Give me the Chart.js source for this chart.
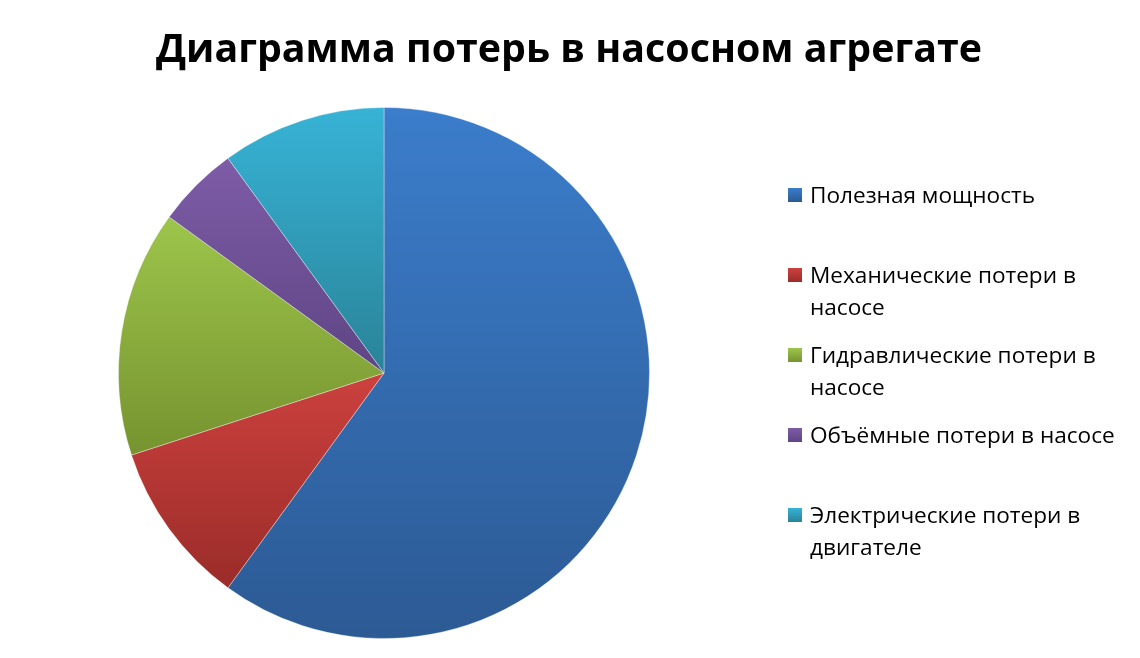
<!DOCTYPE html>
<html>
<head>
<meta charset="utf-8">
<title>Диаграмма потерь в насосном агрегате</title>
<script src="https://cdn.jsdelivr.net/npm/chart.js@4.4.0/dist/chart.umd.min.js"></script>
<style>
    html, body { margin: 0; padding: 0; background: #fff; }
</style>
</head>
<body>
<canvas id="pieChart" width="1140" height="658"></canvas>
<script>
const titleText = 'Диаграмма потерь в насосном агрегате';
const categories = [
    'Полезная мощность',
    'Механические потери в насосе',
    'Гидравлические потери в насосе',
    'Объёмные потери в насосе',
    'Электрические потери в двигателе'
];
const lossValues = [60, 10, 15, 5, 10];

// office-like slice colours, light at the top and dark at the bottom
const lightColors = ['#3b7dcb', '#cc413e', '#9dc54b', '#7e5ca7', '#37b3d6'];
const darkColors = ['#2c5a94', '#9a2c29', '#76932f', '#5e4584', '#2a8398'];

function sliceGradient(context) {
    const chart = context.chart;
    const area = chart.chartArea;
    const i = context.dataIndex;
    if (!area || i === undefined) return lightColors[i || 0];
    const cx = (area.left + area.right) / 2;
    const cy = (area.top + area.bottom) / 2;
    const r = Math.min(area.width, area.height) / 2;
    const total = lossValues.reduce((a, b) => a + b, 0);
    let before = 0;
    for (let k = 0; k < i; k++) before += lossValues[k];
    const a0 = -Math.PI / 2 + before / total * 2 * Math.PI;
    const a1 = a0 + lossValues[i] / total * 2 * Math.PI;
    let ys = [cy, cy + r * Math.sin(a0), cy + r * Math.sin(a1)];
    [-Math.PI / 2, Math.PI / 2, 3 * Math.PI / 2].forEach(function (a) {
        if (a >= a0 && a <= a1) ys.push(cy + r * Math.sin(a));
    });
    const g = chart.ctx.createLinearGradient(0, Math.min(...ys), 0, Math.max(...ys));
    g.addColorStop(0, lightColors[i]);
    g.addColorStop(1, darkColors[i]);
    return g;
}

// title and wrapped legend on the right, drawn like the excel picture
const sideLegend = {
    id: 'sideLegend',
    afterDraw(chart) {
        const ctx = chart.ctx;
        ctx.save();
        ctx.fillStyle = '#000';
        ctx.textAlign = 'left';
        ctx.textBaseline = 'alphabetic';

        ctx.font = 'bold 39px "Open Sans"';
        let w = ctx.measureText(titleText).width;
        let sx = 826 / w;
        ctx.save();
        ctx.translate(156, 62);
        ctx.scale(sx, 1);
        ctx.fillText(titleText, 0, 0);
        ctx.restore();

        ctx.font = '22px "Open Sans"';
        sx = 225 / ctx.measureText(categories[0]).width;
        const maxWidth = 318 / sx;

        categories.forEach(function (label, i) {
            let words = label.split(' ');
            let lines = [];
            let line = '';
            words.forEach(function (word) {
                let test = line ? line + ' ' + word : word;
                if (ctx.measureText(test).width > maxWidth && line) {
                    lines.push(line);
                    line = word;
                } else {
                    line = test;
                }
            });
            lines.push(line);

            let baseY = 203 + i * 80;
            let g = ctx.createLinearGradient(0, baseY - 15, 0, baseY - 1);
            g.addColorStop(0, lightColors[i]);
            g.addColorStop(1, darkColors[i]);
            ctx.fillStyle = g;
            ctx.fillRect(788, baseY - 15, 14, 14);

            ctx.fillStyle = '#000';
            lines.forEach(function (text, j) {
                ctx.save();
                ctx.translate(810, baseY + j * 32);
                ctx.scale(sx, 1);
                ctx.fillText(text, 0, 0);
                ctx.restore();
            });
        });
        ctx.restore();
    }
};

var pieChartCanvas = document.getElementById('pieChart').getContext('2d');
var pieChart = new Chart(pieChartCanvas, {
    type: 'pie',
    data: {
        labels: categories,
        datasets: [
            {
                data: lossValues,
                backgroundColor: sliceGradient,
                borderColor: 'rgba(255,255,255,0.35)',
                borderWidth: 1,
                hoverOffset: 0
            }
        ]
    },
    options: {
        responsive: false,
        animation: false,
        devicePixelRatio: 1,
        layout: {
            padding: { left: 118, right: 490, top: 107, bottom: 19 }
        },
        plugins: {
            legend: { display: false },
            title: { display: false },
            tooltip: { enabled: false }
        }
    },
    plugins: [sideLegend]
});
</script>
</body>
</html>
